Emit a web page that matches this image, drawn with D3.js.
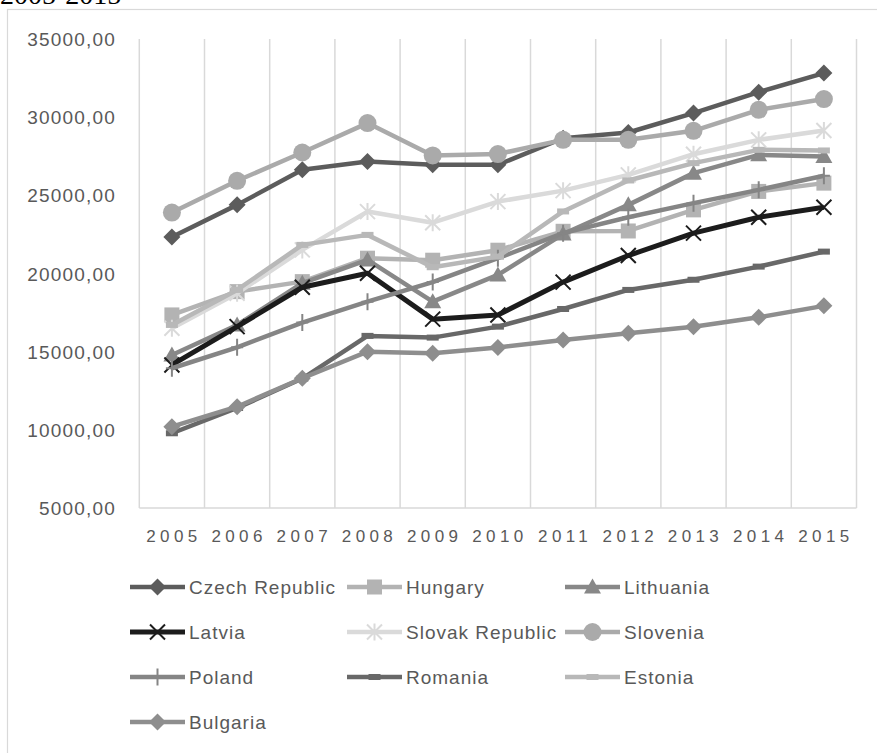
<!DOCTYPE html>
<html><head><meta charset="utf-8">
<script src="https://cdn.jsdelivr.net/npm/d3@7"></script>
<style>
html,body{margin:0;padding:0;background:#fff;overflow:hidden}
svg{display:block}
</style></head>
<body>
<svg id="c" width="877" height="753"></svg>
<script>
const years = ["2005","2006","2007","2008","2009","2010","2011","2012","2013","2014","2015"];
const yTicks = [5000,10000,15000,20000,25000,30000,35000];
const czech     = [22330,24390,26630,27160,26950,26950,28650,29020,30260,31600,32820];
const hungary   = [17350,18840,19480,20980,20850,21490,22700,22720,24070,25250,25780];
const lithuania = [14790,16710,19380,20870,18200,19910,22520,24390,26420,27590,27480];
const latvia    = [14150,16600,19120,20020,17080,17350,19450,21150,22580,23600,24240];
const slovak    = [16500,18740,21510,23960,23250,24600,25300,26310,27630,28550,29150];
const slovenia  = [23900,25930,27740,29620,27550,27640,28550,28550,29130,30470,31160];
const poland    = [13940,15280,16860,18200,19450,20980,22580,23600,24500,25350,26250];
const romania   = [9780,11400,13280,16010,15900,16600,17730,18950,19600,20440,21400];
const estonia   = [16710,18950,21830,22470,20400,21080,23970,25950,27060,27910,27870];
const bulgaria  = [10200,11480,13300,15000,14900,15270,15740,16180,16600,17200,17930];
const seriesNames = ["Czech Republic","Hungary","Lithuania","Latvia","Slovak Republic","Slovenia","Poland","Romania","Estonia","Bulgaria"];
const seriesValues = [czech,hungary,lithuania,latvia,slovak,slovenia,poland,romania,estonia,bulgaria];
const title = "2005-2015";

const styles = {
  "Czech Republic": {color:"#5c5c5c", marker:"diamond"},
  "Hungary": {color:"#b3b3b3", marker:"square"},
  "Lithuania": {color:"#888888", marker:"triangle"},
  "Latvia": {color:"#1c1c1c", marker:"x"},
  "Slovak Republic": {color:"#dadada", marker:"asterisk"},
  "Slovenia": {color:"#aaaaaa", marker:"circle"},
  "Poland": {color:"#858585", marker:"plus"},
  "Romania": {color:"#686868", marker:"dash"},
  "Estonia": {color:"#b8b8b8", marker:"dash"},
  "Bulgaria": {color:"#8e8e8e", marker:"diamond"}
};

const svg = d3.select("#c");
const font = "'Liberation Sans', Arial, sans-serif";

// title (cut off at the top edge, as in the reference)
svg.append("text").attr("x",0).attr("y",4).attr("font-family","'Liberation Serif','Times New Roman',serif")
  .attr("font-size",28).attr("fill","#000").text(title);

// chart border
svg.append("rect").attr("x",7.5).attr("y",9.5).attr("width",900).attr("height",900)
  .attr("fill","none").attr("stroke","#d9d9d9").attr("stroke-width",1.2);

const x = d3.scaleBand().domain(years).range([139.3,856.5]).padding(0);
const y = d3.scaleLinear().domain([5000,35000]).range([508,39]);

// vertical gridlines at band boundaries
const bounds = years.map(d=>x(d)).concat([x(years[years.length-1])+x.bandwidth()]);
svg.append("g").selectAll("line").data(bounds).join("line")
  .attr("x1",d=>d).attr("x2",d=>d).attr("y1",y(35000)).attr("y2",y(5000))
  .attr("stroke","#d9d9d9").attr("stroke-width",1.5);
svg.append("line").attr("x1",bounds[0]).attr("x2",bounds[bounds.length-1])
  .attr("y1",y(5000)).attr("y2",y(5000)).attr("stroke","#d9d9d9").attr("stroke-width",1.5);

// y axis labels
const yAxis = d3.axisLeft(y).tickValues(yTicks).tickSize(0).tickPadding(0)
  .tickFormat(d=>d3.format(".2f")(d).replace(".",","));
const ga = svg.append("g").attr("transform","translate(116,0)").call(yAxis);
ga.select(".domain").remove();
ga.selectAll("text").attr("font-family",font).attr("font-size",19).attr("fill","#595959")
  .attr("letter-spacing","1.2px").attr("dy","0.35em");

// x axis labels
const xAxis = d3.axisBottom(x).tickSize(0).tickPadding(0);
const gx = svg.append("g").attr("transform","translate(2,530)").call(xAxis);
gx.select(".domain").remove();
gx.selectAll("text").attr("font-family",font).attr("font-size",17).attr("fill","#595959")
  .attr("letter-spacing","4.4px").attr("dy","0.71em");

function drawMarker(g, type, color, cx, cy){
  const s = g.append("g").attr("transform",`translate(${cx},${cy})`);
  switch(type){
    case "diamond":
      s.append("path").attr("d","M0,-8.5L8.5,0L0,8.5L-8.5,0Z").attr("fill",color); break;
    case "square":
      s.append("rect").attr("x",-7.5).attr("y",-7.5).attr("width",15).attr("height",15).attr("fill",color); break;
    case "triangle":
      s.append("path").attr("d","M0,-8.5L8.5,6.5L-8.5,6.5Z").attr("fill",color); break;
    case "circle":
      s.append("circle").attr("r",9).attr("fill",color); break;
    case "x":
      s.append("path").attr("d","M-7.5,-7.5L7.5,7.5M-7.5,7.5L7.5,-7.5").attr("stroke",color).attr("stroke-width",2); break;
    case "asterisk":
      s.append("path").attr("d","M-7.5,-7.5L7.5,7.5M-7.5,7.5L7.5,-7.5M0,-8.5L0,8.5").attr("stroke",color).attr("stroke-width",2); break;
    case "plus":
      s.append("path").attr("d","M0,-8.5L0,8.5M-6,0L6,0").attr("stroke",color).attr("stroke-width",2); break;
    case "dash":
      s.append("rect").attr("x",-6).attr("y",-3).attr("width",12).attr("height",6).attr("fill",color); break;
  }
}

const line = d3.line().x((d,i)=>x(years[i])+x.bandwidth()/2).y(d=>y(d));
const plot = svg.append("g");
seriesNames.forEach((name,k)=>{
  const st = styles[name];
  const vals = seriesValues[k];
  const g = plot.append("g");
  g.append("path").datum(vals).attr("d",line).attr("fill","none")
    .attr("stroke",st.color).attr("stroke-width", name==="Latvia"?5:4.5)
    .attr("stroke-linejoin","round");
  vals.forEach((v,i)=>drawMarker(g, st.marker, st.color, x(years[i])+x.bandwidth()/2, y(v)));
});

// legend
const colX = [130,347,565];
const rowY = [587,632,677,722];
seriesNames.forEach((name,k)=>{
  const st = styles[name];
  const cx = colX[k%3], cy = rowY[Math.floor(k/3)];
  const g = svg.append("g");
  g.append("line").attr("x1",cx).attr("x2",cx+55).attr("y1",cy).attr("y2",cy)
    .attr("stroke",st.color).attr("stroke-width",name==="Latvia"?5:4.5);
  drawMarker(g, st.marker, st.color, cx+27.5, cy);
  g.append("text").attr("x",cx+59).attr("y",cy).attr("dy","0.35em")
    .attr("font-family",font).attr("font-size",19).attr("letter-spacing","1px")
    .attr("fill","#595959").text(name);
});
</script>
</body></html>
